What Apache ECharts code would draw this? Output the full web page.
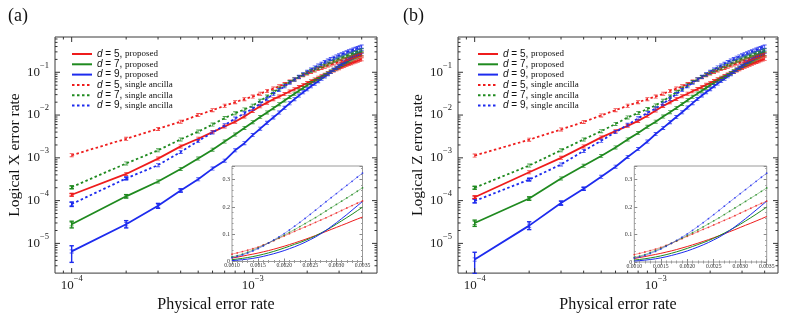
<!DOCTYPE html>
<html><head><meta charset="utf-8">
<script src="https://cdn.jsdelivr.net/npm/echarts@6/dist/echarts.min.js"></script>
<style>html,body{margin:0;padding:0;background:#fff}#c{width:789px;height:318px}</style>
</head><body><div id="c"></div>
<script>
// physical error rates
const px = [0.0001,0.0002,0.0003,0.0004,0.0005,0.0006,0.0007,0.0008,0.0009,0.0010,
  0.0011,0.0012,0.0013,0.0014,0.0015,0.0016,0.0017,0.0018,0.0019,0.0020,
  0.0021,0.0022,0.0023,0.0024,0.0025,0.0026,0.0027,0.0028,0.0029,0.0030,
  0.0031,0.0032,0.0033,0.0034,0.0035,0.0036,0.0037,0.0038,0.0039,0.0040];

// panel (a): logical X error rate
const aP5 = [1.37e-4,4.2e-4,9.6e-4,1.85e-3,2.8e-3,4.0e-3,5.4e-3,7.0e-3,9.3e-3,0.0125,
  0.016,0.0195,0.0235,0.027,0.031,0.0355,0.04,0.045,0.0505,0.056,
  0.062,0.068,0.0745,0.081,0.088,0.095,0.1025,0.11,0.1175,0.125,
  0.1325,0.14,0.148,0.1555,0.163,0.171,0.178,0.186,0.1935,0.201];
const aP7 = [2.8e-5,1.26e-4,2.8e-4,5.5e-4,9.6e-4,1.55e-3,2.4e-3,3.5e-3,5.0e-3,6.8e-3,
  0.009,0.0115,0.0145,0.018,0.022,0.0265,0.0315,0.037,0.043,0.0495,
  0.056,0.063,0.0695,0.077,0.085,0.094,0.104,0.114,0.125,0.137,
  0.149,0.161,0.173,0.186,0.199,0.212,0.225,0.238,0.251,0.264];
const aP9 = [6.5e-6,2.8e-5,7.6e-5,1.73e-4,3.15e-4,5.6e-4,8.6e-4,1.5e-3,2.2e-3,3.4e-3,
  0.0048,0.0066,0.0088,0.0114,0.0148,0.0188,0.0235,0.0285,0.034,0.04,
  0.047,0.054,0.062,0.0705,0.08,0.09,0.1015,0.114,0.128,0.142,
  0.157,0.172,0.188,0.204,0.22,0.236,0.252,0.268,0.284,0.30];
const aS5 = [1.15e-3,2.79e-3,4.75e-3,7.0e-3,1.0e-2,1.3e-2,1.65e-2,2.0e-2,2.35e-2,0.027,
  0.0315,0.0365,0.0415,0.047,0.053,0.0605,0.068,0.0765,0.085,0.0935,
  0.102,0.1105,0.119,0.1265,0.135,0.1435,0.152,0.16,0.169,0.178,
  0.187,0.196,0.205,0.2135,0.222,0.23,0.238,0.246,0.254,0.262];
const aS7 = [2.06e-4,7.4e-4,1.5e-3,2.7e-3,4.1e-3,6.0e-3,8.5e-3,1.1e-2,1.35e-2,0.0165,
  0.0215,0.027,0.034,0.042,0.05,0.059,0.068,0.0775,0.087,0.097,
  0.107,0.117,0.128,0.139,0.15,0.161,0.173,0.185,0.197,0.209,
  0.221,0.233,0.245,0.2575,0.27,0.282,0.294,0.306,0.318,0.33];
const aS9 = [8.3e-5,3.3e-4,6.75e-4,1.37e-3,2.47e-3,3.9e-3,5.8e-3,8.3e-3,1.1e-2,0.014,
  0.0185,0.024,0.031,0.0385,0.047,0.057,0.068,0.079,0.0905,0.1025,
  0.1155,0.1295,0.1435,0.158,0.173,0.188,0.2035,0.219,0.234,0.249,
  0.264,0.279,0.294,0.309,0.324,0.339,0.354,0.369,0.384,0.398];
// error bars [p, low, high, colour index]
const aErr = [[1e-4,3.6e-6,8.8e-6,2],[2e-4,2.3e-5,3.4e-5,2],[3e-4,6.6e-5,8.6e-5,2],[4e-4,1.58e-4,1.88e-4,2],
  [1e-4,2.3e-5,3.3e-5,1],[2e-4,1.15e-4,1.38e-4,1],[1e-4,7.3e-5,9.3e-5,2],[2e-4,3.1e-4,3.55e-4,2],
  [1e-4,1.9e-4,2.2e-4,1],[1e-4,1.28e-4,1.46e-4,0]];
const aThresh = [0.00172, 0.00281];

// panel (b): logical Z error rate
const bP5 = [1.2e-4,4.6e-4,1.0e-3,1.85e-3,3.0e-3,4.2e-3,5.6e-3,7.3e-3,9.6e-3,0.0128,
  0.0163,0.0198,0.0238,0.0275,0.0315,0.036,0.0405,0.0455,0.051,0.0565,
  0.0625,0.0685,0.075,0.0815,0.0885,0.0955,0.103,0.1105,0.118,0.126,
  0.134,0.1415,0.1495,0.1575,0.166,0.174,0.182,0.19,0.198,0.206];
const bP7 = [3.0e-5,1.12e-4,3.3e-4,6.5e-4,1.1e-3,1.75e-3,2.7e-3,3.8e-3,5.3e-3,7.0e-3,
  0.0092,0.0117,0.0147,0.0182,0.0222,0.0267,0.0317,0.0372,0.0432,0.0497,
  0.0565,0.0635,0.0705,0.078,0.0865,0.0955,0.1055,0.1155,0.1265,0.1375,
  0.1495,0.1615,0.174,0.187,0.2,0.213,0.226,0.239,0.252,0.265];
const bP9 = [4.2e-6,2.6e-5,8.8e-5,1.9e-4,3.6e-4,6.2e-4,1.05e-3,1.6e-3,2.4e-3,3.6e-3,
  0.005,0.0068,0.009,0.0116,0.015,0.019,0.0237,0.0287,0.0342,0.0402,
  0.0472,0.0545,0.0625,0.071,0.0805,0.0905,0.102,0.1145,0.1285,0.143,
  0.158,0.1735,0.1895,0.2055,0.222,0.238,0.254,0.27,0.286,0.302];
const bS5 = [1.13e-3,2.65e-3,4.6e-3,6.9e-3,9.8e-3,1.3e-2,1.65e-2,2.0e-2,2.35e-2,0.027,
  0.0315,0.0365,0.0415,0.047,0.053,0.0605,0.068,0.0765,0.085,0.0935,
  0.102,0.1105,0.119,0.1265,0.135,0.1435,0.152,0.16,0.169,0.178,
  0.187,0.196,0.205,0.2135,0.222,0.23,0.238,0.246,0.254,0.262];
const bS7 = [2.0e-4,6.6e-4,1.5e-3,2.7e-3,4.2e-3,6.2e-3,8.8e-3,1.12e-2,1.38e-2,0.0168,
  0.0215,0.027,0.034,0.042,0.05,0.059,0.068,0.0775,0.087,0.097,
  0.107,0.117,0.128,0.139,0.15,0.161,0.173,0.185,0.197,0.209,
  0.221,0.233,0.245,0.2575,0.27,0.282,0.294,0.306,0.318,0.33];
const bS9 = [9.8e-5,3.1e-4,7.0e-4,1.45e-3,2.5e-3,4.0e-3,5.9e-3,8.4e-3,1.12e-2,0.0142,
  0.0185,0.024,0.031,0.0385,0.047,0.057,0.068,0.079,0.0905,0.1025,
  0.1155,0.1295,0.1435,0.158,0.173,0.188,0.2035,0.219,0.234,0.249,
  0.264,0.279,0.294,0.309,0.324,0.339,0.354,0.369,0.384,0.398];
const bErr = [[1e-4,2.0e-6,6.2e-6,2],[2e-4,2.1e-5,3.2e-5,2],[3e-4,7.8e-5,9.8e-5,2],[4e-4,1.75e-4,2.05e-4,2],
  [1e-4,2.5e-5,3.5e-5,1],[2e-4,1.02e-4,1.22e-4,1],[1e-4,8.8e-5,1.1e-4,2],[2e-4,2.9e-4,3.3e-4,2],
  [1e-4,1.85e-4,2.15e-4,1],[1e-4,1.12e-4,1.28e-4,0]];
const bThresh = [0.00172, 0.00278];

const seriesNames = ['d5p','d7p','d9p','d5s','d7s','d9s'];
const yTitles = ['Logical X error rate', 'Logical Z error rate'];
const panelLabels = ['(a)', '(b)'];
const insetXTicks = [0.0010, 0.0035];
const insetYRange = [0, 0.35];

const COLORS = ['#ee1c1c', '#1f8a1f', '#1d2bee'];
const SERIF = 'Liberation Serif';
const MARK = 'path://M0 0H6V1.3H3.65V4.7H6V6H0V4.7H2.35V1.3H0Z';

const panels = [
  {vals:[aP5,aP7,aP9,aS5,aS7,aS9], err:aErr, th:aThresh,
   main:{left:55, top:37, width:322, height:239}, inset:{left:232, top:166, width:130.5, height:95.5},
   xr:[8.09e-5, 4.86e-3], yr:[2.02e-6, 0.668], legend:{left:66, top:44}, title:3},
  {vals:[bP5,bP7,bP9,bS5,bS7,bS9], err:bErr, th:bThresh,
   main:{left:458, top:37, width:320, height:239}, inset:{left:634.3, top:166, width:132.4, height:96},
   xr:[8.09e-5, 4.74e-3], yr:[2.02e-6, 0.668], legend:{left:472, top:44}, title:398}
];

function powLabel(v) {
  const e = Math.log10(v), r = Math.round(e);
  if (Math.abs(e - r) > 1e-4) return '';
  return '{b|10}{s|\u2212' + (-r) + '}';
}
const powRich = {
  b: {fontFamily: SERIF, fontSize: 13, color: '#222'},
  s: {fontFamily: SERIF, fontSize: 8.5, color: '#222', padding: [0, 0, 14, 0]}
};

function logTicks(lo, hi) {
  const out = [];
  for (let e = -7; e <= 0; e++) {
    for (let m = 1; m <= 9; m++) {
      const v = m * Math.pow(10, e);
      if (v >= lo && v <= hi) out.push([v, m === 1 ? 1 : 0]);
    }
  }
  return out;
}

const grid = [], xAxis = [], yAxis = [], series = [], legend = [], title = [];

panels.forEach((P, k) => {
  const gm = grid.length;
  grid.push(Object.assign({show: true, borderColor: '#3a3a3a', borderWidth: 1, backgroundColor: '#fff'}, P.main));
  const gi = grid.length;
  grid.push(Object.assign({show: true, borderColor: '#9a9a9a', borderWidth: 1, backgroundColor: '#fff', z: 3}, P.inset));

  const mx = xAxis.length;
  xAxis.push({type: 'log', gridIndex: gm, min: P.xr[0], max: P.xr[1], logBase: 10,
    axisLine: {show: false}, axisTick: {show: false}, splitLine: {show: false},
    axisLabel: {interval: 0, margin: 1, formatter: powLabel, rich: powRich, showMinLabel: true, showMaxLabel: true},
    name: 'Physical error rate', nameLocation: 'middle', nameGap: 16,
    nameTextStyle: {fontFamily: SERIF, fontSize: 16, color: '#111'}});
  const my = yAxis.length;
  yAxis.push({type: 'log', gridIndex: gm, min: P.yr[0], max: P.yr[1], logBase: 10,
    axisLine: {show: false}, axisTick: {show: false}, splitLine: {show: false},
    axisLabel: {interval: 0, margin: 6, formatter: powLabel, rich: powRich},
    name: yTitles[k], nameLocation: 'middle', nameGap: 27, nameRotate: 90,
    nameTextStyle: {fontFamily: SERIF, fontSize: 15.5, color: '#111'}});

  const insetAxisCommon = {z: 4, splitLine: {show: false}, axisLine: {show: false},
    axisTick: {inside: true, length: 3, lineStyle: {color: '#888'}},
    minorTick: {show: true, splitNumber: 5, length: 1.5, lineStyle: {color: '#999'}}};
  const ix = xAxis.length;
  xAxis.push(Object.assign({type: 'value', gridIndex: gi, min: insetXTicks[0], max: insetXTicks[1], interval: 0.0005,
    axisLabel: {fontFamily: SERIF, fontSize: 5.7, color: '#333', margin: 1.5, formatter: v => v.toFixed(4)}}, insetAxisCommon));
  xAxis.push(Object.assign({type: 'value', gridIndex: gi, position: 'top', min: insetXTicks[0], max: insetXTicks[1], interval: 0.0005,
    axisLabel: {show: false}}, insetAxisCommon));
  const iy = yAxis.length;
  yAxis.push(Object.assign({type: 'value', gridIndex: gi, min: insetYRange[0], max: insetYRange[1], interval: 0.1,
    axisLabel: {fontFamily: SERIF, fontSize: 6, color: '#333', margin: 2,
      formatter: v => (v === 0 ? '0' : (Math.abs(v * 10 - Math.round(v * 10)) < 1e-6 ? v.toFixed(1) : ''))}}, insetAxisCommon));
  yAxis.push(Object.assign({type: 'value', gridIndex: gi, position: 'right', min: insetYRange[0], max: insetYRange[1], interval: 0.1,
    axisLabel: {show: false}}, insetAxisCommon));

  // main curves
  P.vals.forEach((vals, s) => {
    const col = COLORS[s % 3];
    const single = s >= 3;
    series.push({type: 'line', name: seriesNames[s], xAxisIndex: mx, yAxisIndex: my,
      data: px.map((x, i) => [x, vals[i]]), symbol: 'none', color: col, z: 2,
      lineStyle: {color: col, width: 1.8, type: single ? [2.5, 2.5] : 'solid'}, animation: false});
    series.push({type: 'scatter', name: 'm' + s, xAxisIndex: mx, yAxisIndex: my,
      data: px.map((x, i) => [x, vals[i]]), symbol: MARK, symbolSize: [4, 4],
      itemStyle: {color: col}, z: 2, animation: false, silent: true});
  });
  // error bars
  series.push({type: 'custom', name: 'err', xAxisIndex: mx, yAxisIndex: my, data: P.err, z: 2, silent: true,
    encode: {x: 0, y: [1, 2]}, animation: false,
    renderItem: (params, api) => {
      const p1 = api.coord([api.value(0), api.value(1)]);
      const p2 = api.coord([api.value(0), api.value(2)]);
      const st = {stroke: COLORS[api.value(3)], lineWidth: 1.4};
      return {type: 'group', children: [
        {type: 'line', shape: {x1: p1[0], y1: p1[1], x2: p2[0], y2: p2[1]}, style: st},
        {type: 'line', shape: {x1: p1[0] - 2.2, y1: p1[1], x2: p1[0] + 2.2, y2: p1[1]}, style: st},
        {type: 'line', shape: {x1: p2[0] - 2.2, y1: p2[1], x2: p2[0] + 2.2, y2: p2[1]}, style: st}]};
    }});
  // frame ticks (major and minor log ticks, all four sides)
  series.push({type: 'custom', name: 'xt', xAxisIndex: mx, yAxisIndex: my, silent: true, z: 2, animation: false,
    data: logTicks(P.xr[0], P.xr[1]).map(t => [t[0], 1e-3, t[1]]), encode: {x: 0, y: 1},
    renderItem: (params, api) => {
      const cs = params.coordSys;
      const x = api.coord([api.value(0), api.value(1)])[0];
      const len = api.value(2) ? 5 : 2.5;
      const st = {stroke: '#333', lineWidth: 1};
      const b = cs.y + cs.height, t = cs.y;
      return {type: 'group', children: [
        {type: 'line', shape: {x1: x, y1: b, x2: x, y2: b - len}, style: st},
        {type: 'line', shape: {x1: x, y1: t, x2: x, y2: t + len}, style: st}]};
    }});
  series.push({type: 'custom', name: 'yt', xAxisIndex: mx, yAxisIndex: my, silent: true, z: 2, animation: false,
    data: logTicks(P.yr[0], P.yr[1]).map(t => [1e-3, t[0], t[1]]), encode: {x: 0, y: 1},
    renderItem: (params, api) => {
      const cs = params.coordSys;
      const y = api.coord([api.value(0), api.value(1)])[1];
      const len = api.value(2) ? 5 : 2.5;
      const st = {stroke: '#333', lineWidth: 1};
      const l = cs.x, r = cs.x + cs.width;
      return {type: 'group', children: [
        {type: 'line', shape: {x1: l, y1: y, x2: l + len, y2: y}, style: st},
        {type: 'line', shape: {x1: r, y1: y, x2: r - len, y2: y}, style: st}]};
    }});

  // inset curves (linear axes, 0.0010 - 0.0035)
  P.vals.forEach((vals, s) => {
    const col = COLORS[s % 3];
    const single = s >= 3;
    const data = px.map((x, i) => [x, vals[i]]).filter(d => d[0] >= insetXTicks[0] - 1e-9 && d[0] <= insetXTicks[1] + 1e-9);
    const ser = {type: 'line', name: 'i' + s, xAxisIndex: ix, yAxisIndex: iy, data: data, z: 5, animation: false, silent: true,
      color: col,
      symbol: single ? 'circle' : 'none', symbolSize: 1.8, showAllSymbol: true,
      itemStyle: {color: col, opacity: 0.8},
      lineStyle: {color: col, width: 1, opacity: single ? 0.45 : 1}};
    if (s === 0) {
      ser.markLine = {silent: true, symbol: 'none', label: {show: false}, animation: false,
        lineStyle: {color: '#999', width: 1, type: [3, 2]},
        data: P.th.map(v => ({xAxis: v}))};
    }
    series.push(ser);
  });

  legend.push({left: P.legend.left, top: P.legend.top, orient: 'vertical', data: seriesNames,
    itemWidth: 20, itemHeight: 8, itemGap: 0.3, selectedMode: false,
    itemStyle: {opacity: 0},
    formatter: n => '{i|d}{m| = ' + n[1] + ', }{t|' + (n[2] === 'p' ? 'proposed' : 'single ancilla') + '}',
    textStyle: {rich: {
      i: {fontFamily: 'Liberation Sans', fontStyle: 'italic', fontSize: 10, lineHeight: 12, color: '#111'},
      m: {fontFamily: 'Liberation Sans', fontSize: 10, lineHeight: 12, color: '#111'},
      t: {fontFamily: SERIF, fontSize: 9, lineHeight: 12, color: '#111'}}}});
  title.push({text: panelLabels[k], left: P.title, top: 2,
    textStyle: {fontFamily: SERIF, fontSize: 18, fontWeight: 'normal', color: '#111'}});
});

const chart = echarts.init(document.getElementById('c'), null, {renderer: 'canvas'});
chart.setOption({animation: false, backgroundColor: '#fff', title, legend, grid, xAxis, yAxis, series});
</script></body></html>
